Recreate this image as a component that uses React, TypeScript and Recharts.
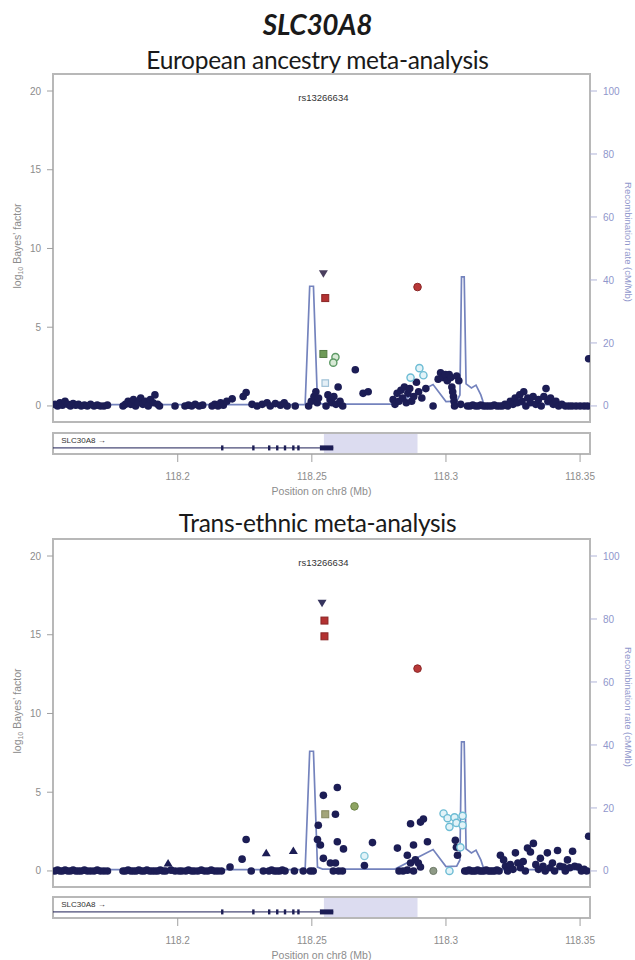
import React from 'react';
import {
  ComposedChart,
  Scatter,
  XAxis,
  YAxis,
  ReferenceArea,
  ReferenceDot,
  ReferenceLine,
  Label,
} from 'recharts';

type Pt = [number, number];

// ---- axes ----
const X_MIN = 118.1535;
const X_MAX = 118.3537;
const positionTicks = [118.2, 118.25, 118.3, 118.35];
const bayesTicks = [0, 5, 10, 15, 20];
const recombTicks = [0, 20, 40, 60, 80, 100];
const BF_DOMAIN: [number, number] = [-1.02, 21.08];
const REC_DOMAIN: [number, number] = [-5.1, 105.4];

// ---- titles ----
const geneTitle = 'SLC30A8';
const eurTitle = 'European ancestry meta-analysis';
const transTitle = 'Trans-ethnic meta-analysis';
const leadSnp = 'rs13266634';
const leadPos = 118.2543;

// ---- recombination rate (cM/Mb) ----
const recombination: Pt[] = [
  [118.1535, 0.4], [118.2475, 0.4], [118.2492, 38], [118.2506, 38], [118.2521, 1.2],
  [118.2540, 0.6], [118.2810, 0.6], [118.2952, 6.8], [118.3000, 1.4], [118.3040, 1.5],
  [118.3052, 3.5], [118.3058, 41], [118.3068, 41], [118.3075, 7], [118.3095, 5.7],
  [118.3112, 6.6], [118.3130, 3.5], [118.3142, 0.4], [118.3537, 0.4],
];

// ---- gene model ----
const geneName = 'SLC30A8 →';
const geneEnd = 118.258;
const exonPositions = [118.2166, 118.2282, 118.2341, 118.2371, 118.2400, 118.2431, 118.2450];
const utrBlock: [number, number] = [118.2530, 118.2580];
const highlightRegion: [number, number] = [118.2545, 118.2894];

// ---- European ancestry meta-analysis (log10 Bayes' factor) ----
const eurOther: Pt[] = [
  [118.1542, 0.1], [118.1552, 0.0], [118.1561, 0.2], [118.1570, 0.05], [118.1580, 0.3],
  [118.1590, 0.1], [118.1600, 0.0], [118.1610, 0.15], [118.1620, 0.05], [118.1630, 0.1],
  [118.1640, 0.0], [118.1652, 0.05], [118.1663, 0.0], [118.1675, 0.1], [118.1688, 0.0],
  [118.1700, 0.05], [118.1712, 0.0], [118.1725, 0.0], [118.1738, 0.05],
  [118.1796, 0.0], [118.1805, 0.1], [118.1815, 0.3], [118.1825, 0.1], [118.1835, 0.4],
  [118.1843, 0.0], [118.1852, 0.2], [118.1862, 0.5], [118.1870, 0.1], [118.1880, 0.3],
  [118.1890, 0.0], [118.1898, 0.4], [118.1908, 0.2], [118.1915, 0.7], [118.1925, 0.1],
  [118.1932, 0.0], [118.1990, 0.0],
  [118.2027, 0.0], [118.2040, 0.05], [118.2052, 0.0], [118.2065, 0.1], [118.2080, 0.0],
  [118.2093, 0.05], [118.2128, 0.0], [118.2138, 0.1], [118.2150, 0.0], [118.2160, 0.2],
  [118.2170, 0.05], [118.2183, 0.3], [118.2203, 0.45], [118.2244, 0.6], [118.2255, 0.85],
  [118.2277, 0.1], [118.2296, 0.0], [118.2315, 0.1], [118.2333, 0.2], [118.2345, 0.0],
  [118.2364, 0.15], [118.2383, 0.05], [118.2397, 0.2], [118.2408, 0.0], [118.2438, 0.0],
  [118.2488, 0.0], [118.2498, 0.3], [118.2508, 0.6], [118.2515, 0.9], [118.2520, 0.2],
  [118.2525, 0.5], [118.2553, 0.0], [118.2560, 0.7], [118.2568, 0.4], [118.2575, 0.2],
  [118.2582, 0.6], [118.2590, 0.1], [118.2598, 1.2], [118.2605, 0.3], [118.2615, 0.0],
  [118.2662, 2.3], [118.2691, 0.8], [118.2710, 0.9],
  [118.2803, 0.4], [118.2810, 0.1], [118.2818, 0.8], [118.2825, 0.3], [118.2832, 1.0],
  [118.2838, 0.5], [118.2845, 1.2], [118.2852, 0.2], [118.2858, 0.8], [118.2865, 1.1],
  [118.2872, 0.3], [118.2880, 0.6], [118.2890, 1.5], [118.2898, 0.9], [118.2910, 0.5],
  [118.2925, 1.1], [118.2952, 0.0],
  [118.2971, 1.7], [118.2980, 2.1], [118.2990, 1.8], [118.2998, 2.0], [118.3005, 1.6],
  [118.3012, 2.0], [118.3018, 1.8], [118.3022, 1.2], [118.3025, 0.9], [118.3028, 0.6],
  [118.3030, 0.3], [118.3032, 0.0], [118.3040, 1.9], [118.3048, 1.6], [118.3055, 0.1],
  [118.3080, 0.0], [118.3090, 0.0], [118.3100, 0.05], [118.3110, 0.0], [118.3120, 0.0],
  [118.3130, 0.05], [118.3140, 0.0], [118.3150, 0.0], [118.3160, 0.0], [118.3170, 0.0],
  [118.3180, 0.05], [118.3190, 0.0], [118.3200, 0.0], [118.3210, 0.0], [118.3220, 0.1],
  [118.3230, 0.0], [118.3240, 0.3], [118.3250, 0.1], [118.3258, 0.5], [118.3266, 0.2],
  [118.3275, 0.7], [118.3283, 0.3], [118.3290, 0.9], [118.3298, 0.0], [118.3305, 0.5],
  [118.3315, 0.2], [118.3325, 0.6], [118.3335, 0.1], [118.3345, 0.4], [118.3355, 0.0],
  [118.3365, 0.6], [118.3373, 1.1], [118.3380, 0.3], [118.3390, 0.5], [118.3400, 0.1],
  [118.3410, 0.3], [118.3420, 0.0], [118.3432, 0.1], [118.3445, 0.0], [118.3458, 0.0],
  [118.3470, 0.0], [118.3485, 0.0], [118.3500, 0.0], [118.3515, 0.0], [118.3528, 0.0],
  [118.3532, 3.0],
];
const eurLead: Pt[] = [[118.2543, 8.4]];
const eurRedSquare: Pt[] = [[118.2550, 6.85]];
const eurRedCircle: Pt[] = [[118.2894, 7.55]];
const eurGreenSquare: Pt[] = [[118.2543, 3.3]];
const eurGreenRing: Pt[] = [[118.2588, 3.1], [118.2580, 2.75]];
const eurPaleSquare: Pt[] = [[118.2550, 1.45]];
const eurCyanRing: Pt[] = [[118.2868, 1.8], [118.2901, 2.4], [118.2916, 1.95]];

// ---- Trans-ethnic meta-analysis (log10 Bayes' factor) ----
const transOther: Pt[] = [
  [118.1542, 0.0], [118.1552, 0.05], [118.1561, 0.0], [118.1570, 0.0], [118.1580, 0.05],
  [118.1590, 0.0], [118.1600, 0.0], [118.1610, 0.05], [118.1620, 0.0], [118.1630, 0.0],
  [118.1640, 0.0], [118.1652, 0.05], [118.1663, 0.0], [118.1675, 0.0], [118.1688, 0.0],
  [118.1700, 0.05], [118.1712, 0.0], [118.1725, 0.0], [118.1738, 0.0],
  [118.1796, 0.0], [118.1805, 0.0], [118.1815, 0.05], [118.1825, 0.0], [118.1835, 0.0],
  [118.1845, 0.0], [118.1855, 0.05], [118.1865, 0.0], [118.1875, 0.0], [118.1885, 0.05],
  [118.1895, 0.0], [118.1905, 0.0], [118.1915, 0.0], [118.1925, 0.0], [118.1935, 0.05],
  [118.1945, 0.0], [118.1955, 0.0], [118.1975, 0.05], [118.1990, 0.0], [118.2005, 0.0],
  [118.2015, 0.0], [118.2030, 0.0], [118.2040, 0.05], [118.2052, 0.0], [118.2062, 0.0],
  [118.2075, 0.0], [118.2088, 0.05], [118.2100, 0.0], [118.2112, 0.0], [118.2125, 0.05],
  [118.2138, 0.0], [118.2150, 0.0], [118.2163, 0.0],
  [118.2195, 0.25], [118.2240, 0.75], [118.2255, 2.0], [118.2274, 0.0], [118.2319, 0.0],
  [118.2340, 0.0], [118.2350, 0.05], [118.2360, 0.0], [118.2370, 0.0], [118.2380, 0.0],
  [118.2390, 0.05], [118.2400, 0.0], [118.2435, 0.0], [118.2468, 0.0], [118.2494, 0.0],
  [118.2505, 0.0],
  [118.2521, 2.0], [118.2524, 2.9], [118.2532, 1.65], [118.2543, 4.8], [118.2543, 0.8],
  [118.2569, 0.5], [118.2588, 0.5], [118.2595, 5.3], [118.2588, 3.6], [118.2595, 1.85],
  [118.2618, 1.4], [118.2726, 1.8], [118.2696, 0.35], [118.2614, 0.0], [118.2600, 0.0],
  [118.2580, 0.0],
  [118.2819, 1.45], [118.2868, 3.0], [118.2905, 3.1], [118.2916, 3.3], [118.2879, 1.65],
  [118.2931, 1.85], [118.2856, 1.0], [118.2868, 0.5], [118.2886, 0.7], [118.2897, 0.5],
  [118.2856, 0.05], [118.2905, 0.25], [118.2879, 0.0], [118.2840, 0.0], [118.2825, 0.0],
  [118.3035, 1.95], [118.3039, 1.5], [118.3043, 1.0],
  [118.3070, 0.0], [118.3078, 0.0], [118.3086, 0.05], [118.3094, 0.0], [118.3102, 0.0],
  [118.3110, 0.0], [118.3118, 0.05], [118.3126, 0.0], [118.3134, 0.0], [118.3142, 0.0],
  [118.3150, 0.05], [118.3158, 0.0], [118.3166, 0.0], [118.3174, 0.0], [118.3182, 0.0],
  [118.3190, 0.05], [118.3198, 0.0], [118.3203, 1.0], [118.3215, 0.7], [118.3222, 0.3],
  [118.3230, 0.0], [118.3240, 0.4], [118.3250, 0.1], [118.3259, 1.15], [118.3268, 0.5],
  [118.3278, 0.2], [118.3288, 0.6], [118.3296, 0.0], [118.3304, 1.45], [118.3315, 1.2],
  [118.3326, 1.75], [118.3335, 0.4], [118.3345, 0.1], [118.3352, 0.8], [118.3362, 0.3],
  [118.3370, 0.0], [118.3378, 1.15], [118.3388, 0.2], [118.3397, 0.5], [118.3405, 0.0],
  [118.3416, 1.3], [118.3425, 0.3], [118.3438, 0.25], [118.3445, 0.0], [118.3453, 0.7],
  [118.3462, 0.2], [118.3472, 1.25], [118.3480, 0.3], [118.3494, 0.25], [118.3505, 0.0],
  [118.3515, 0.1], [118.3525, 0.0], [118.3532, 2.2],
];
const transTriangles: Pt[] = [[118.1964, 0.5], [118.2330, 1.15], [118.2431, 1.3]];
const transLead: Pt[] = [[118.2538, 17.0]];
const transRedSquare: Pt[] = [[118.2547, 15.9], [118.2547, 14.9]];
const transRedCircle: Pt[] = [[118.2894, 12.85]];
const transOliveSquare: Pt[] = [[118.2550, 3.6]];
const transGreenCircle: Pt[] = [[118.2659, 4.1]];
const transPaleCircle: Pt[] = [[118.2696, 0.95]];
const transGreyCircle: Pt[] = [[118.2953, 0.0]];
const transCyanRing: Pt[] = [
  [118.2991, 3.65], [118.3006, 3.35], [118.3013, 2.8], [118.3032, 3.4], [118.3039, 3.05],
  [118.3062, 3.5], [118.3062, 2.9], [118.3054, 1.5], [118.3013, 0.0],
];

// ---- palette ----
const NAVY = '#1c1d55';
const BOX = '#b8b8b8';
const TICK_GREY = '#8c8c8c';
const REC_BLUE = '#7483bd';
const REC_LABEL = '#9097cc';
const SANS = 'Liberation Sans, Arial, sans-serif';

const toXY = (pts: Pt[]) => pts.map(([x, y]) => ({ x, y }));

const circle = (fill: string, stroke = 'none', r = 3.8, sw = 1) => (p: any) => (
  <circle cx={p.cx} cy={p.cy} r={r} fill={fill} stroke={stroke} strokeWidth={sw} />
);
const square = (fill: string, stroke = 'none', s = 7, sw = 1) => (p: any) => (
  <rect x={p.cx - s / 2} y={p.cy - s / 2} width={s} height={s} fill={fill} stroke={stroke} strokeWidth={sw} />
);
const triDown = (fill: string) => (p: any) => (
  <path d={`M${p.cx - 4.5},${p.cy - 3.5}L${p.cx + 4.5},${p.cy - 3.5}L${p.cx},${p.cy + 4}Z`} fill={fill} />
);
const triUp = (fill: string) => (p: any) => (
  <path d={`M${p.cx - 4.5},${p.cy + 3.5}L${p.cx + 4.5},${p.cy + 3.5}L${p.cx},${p.cy - 4}Z`} fill={fill} />
);
const noShape = () => <g />;

type Layer = { data: Pt[]; shape: (p: any) => React.ReactElement };

const BayesLabel = (props: any) => {
  const vb = props.viewBox || { x: 0, y: 0, width: 53, height: 300 };
  const cx = vb.x + 17;
  const cy = vb.y + vb.height / 2 - 2;
  return (
    <text
      x={cx}
      y={cy}
      transform={`rotate(-90 ${cx} ${cy})`}
      textAnchor="middle"
      dominantBaseline="central"
      fontSize={10.5}
      fill={TICK_GREY}
      fontFamily={SANS}
    >
      log<tspan fontSize={7} dy={3}>10</tspan>
      <tspan dy={-3}> Bayes' factor</tspan>
    </text>
  );
};

const RecombLabel = (props: any) => {
  const vb = props.viewBox || { x: 590, y: 0, width: 45, height: 300 };
  const cx = vb.x + 38;
  const cy = vb.y + vb.height / 2 - 6;
  return (
    <text
      x={cx}
      y={cy}
      transform={`rotate(90 ${cx} ${cy})`}
      textAnchor="middle"
      dominantBaseline="central"
      fontSize={9.5}
      fill={REC_LABEL}
      fontFamily={SANS}
    >
      Recombination rate (cM/Mb)
    </text>
  );
};

function AssocPanel({ boxTop, boxBottom, layers }: { boxTop: number; boxBottom: number; layers: Layer[] }) {
  const pad = 4;
  return (
    <div style={{ position: 'absolute', left: 0, top: boxTop - pad }}>
      <ComposedChart width={635} height={boxBottom - boxTop + 2 * pad} margin={{ top: pad, right: 0, bottom: pad, left: 0 }}>
        <XAxis type="number" dataKey="x" domain={[X_MIN, X_MAX]} hide allowDataOverflow />
        <YAxis
          yAxisId="bf"
          type="number"
          dataKey="y"
          domain={BF_DOMAIN}
          ticks={bayesTicks}
          interval={0}
          allowDataOverflow
          width={53}
          axisLine={false}
          tickLine={{ stroke: '#a0a0a0' }}
          tickSize={6}
          tickMargin={6}
          tick={{ fontSize: 10, fill: TICK_GREY, fontFamily: SANS }}
        >
          <Label content={<BayesLabel />} />
        </YAxis>
        <YAxis
          yAxisId="rec"
          orientation="right"
          type="number"
          dataKey="y"
          domain={REC_DOMAIN}
          ticks={recombTicks}
          interval={0}
          allowDataOverflow
          width={45}
          axisLine={false}
          tickLine={{ stroke: '#b0b4d8' }}
          tickSize={7}
          tickMargin={6}
          tick={{ fontSize: 10, fill: REC_LABEL, fontFamily: SANS }}
        >
          <Label content={<RecombLabel />} />
        </YAxis>
        <Scatter
          yAxisId="rec"
          data={toXY(recombination)}
          line={{ stroke: REC_BLUE, strokeWidth: 1.7 }}
          shape={noShape}
          isAnimationActive={false}
        />
        {layers.map((l, i) => (
          <Scatter key={i} yAxisId="bf" data={toXY(l.data)} shape={l.shape} isAnimationActive={false} />
        ))}
        <ReferenceDot
          yAxisId="bf"
          x={leadPos}
          y={19.6}
          r={0}
          fill="none"
          stroke="none"
          label={{ value: leadSnp, position: 'center', fontSize: 9.5, fill: '#333', fontFamily: SANS }}
        />
        <ReferenceArea
          yAxisId="bf"
          x1={X_MIN}
          x2={X_MAX}
          y1={BF_DOMAIN[0]}
          y2={BF_DOMAIN[1]}
          fill="none"
          stroke={BOX}
          strokeWidth={2}
          ifOverflow="visible"
        />
      </ComposedChart>
    </div>
  );
}

const exonShape = (p: any) => <rect x={p.cx - 1.2} y={p.cy - 2.5} width={2.4} height={5} fill={NAVY} />;

function GeneTrack({ top }: { top: number }) {
  return (
    <div style={{ position: 'absolute', left: 0, top }}>
      <ComposedChart width={635} height={70} margin={{ top: 4, right: 45, bottom: 0, left: 53 }}>
        <XAxis
          type="number"
          dataKey="x"
          domain={[X_MIN, X_MAX]}
          ticks={positionTicks}
          interval={0}
          allowDataOverflow
          height={45}
          axisLine={false}
          tickLine={{ stroke: '#a0a0a0' }}
          tickSize={8}
          tickMargin={11}
          tick={{ fontSize: 10, fill: TICK_GREY, fontFamily: SANS }}
        >
          <Label
            value="Position on chr8 (Mb)"
            position="insideBottom"
            offset={4}
            style={{ fontSize: 10.5, fill: TICK_GREY, fontFamily: SANS }}
          />
        </XAxis>
        <YAxis hide type="number" dataKey="y" domain={[0, 1]} />
        <ReferenceArea
          x1={highlightRegion[0]}
          x2={highlightRegion[1]}
          y1={0}
          y2={1}
          fill="#dcdcf0"
          fillOpacity={1}
          stroke="none"
        />
        <ReferenceLine
          segment={[{ x: X_MIN, y: 0.29 }, { x: geneEnd, y: 0.29 }]}
          stroke={NAVY}
          strokeWidth={1}
        />
        <ReferenceArea x1={utrBlock[0]} x2={utrBlock[1]} y1={0.17} y2={0.41} fill={NAVY} fillOpacity={1} stroke="none" />
        <Scatter data={exonPositions.map((x) => ({ x, y: 0.29 }))} shape={exonShape} isAnimationActive={false} />
        <ReferenceDot
          x={X_MIN + 0.0012}
          y={0.66}
          r={0}
          fill="none"
          stroke="none"
          label={{ value: geneName, position: 'right', fontSize: 8, fill: '#333', fontFamily: SANS }}
        />
        <ReferenceArea
          x1={X_MIN}
          x2={X_MAX}
          y1={0}
          y2={1}
          fill="none"
          stroke={BOX}
          strokeWidth={2}
          ifOverflow="visible"
        />
      </ComposedChart>
    </div>
  );
}

const titleFont = 'Lato, "Open Sans", sans-serif';

function Heading({ text, centerY, size, bold, italic }: { text: string; centerY: number; size: number; bold?: boolean; italic?: boolean }) {
  return (
    <div
      style={{
        position: 'absolute',
        left: 0,
        width: 635,
        top: centerY - 16,
        height: 32,
        lineHeight: '32px',
        textAlign: 'center',
        fontFamily: titleFont,
        fontSize: size,
        fontWeight: bold ? 700 : 400,
        fontStyle: italic ? 'italic' : 'normal',
        color: '#1a1a1a',
        letterSpacing: -0.3,
      }}
    >
      {text}
    </div>
  );
}

const eurLayers: Layer[] = [
  { data: eurOther, shape: circle(NAVY) },
  { data: eurPaleSquare, shape: square('#e4eff6', '#9fc1d6', 6.5, 1.2) },
  { data: eurCyanRing, shape: circle('#e2f3f8', '#6dbcd4', 3.6, 1.4) },
  { data: eurGreenRing, shape: circle('#d8ead6', '#5e9a66', 3.6, 1.4) },
  { data: eurGreenSquare, shape: square('#6f9a58', '#557a44', 7, 1) },
  { data: eurRedCircle, shape: circle('#b83838', '#8a2626', 3.8, 1) },
  { data: eurRedSquare, shape: square('#b33232', '#8a2626', 7, 1) },
  { data: eurLead, shape: triDown('#4a3f5e') },
];

const transLayers: Layer[] = [
  { data: transOther, shape: circle(NAVY) },
  { data: transTriangles, shape: triUp(NAVY) },
  { data: transGreyCircle, shape: circle('#8e9a86', '#6e7a68', 3.6, 1) },
  { data: transPaleCircle, shape: circle('#e2f3f8', '#86c8da', 3.6, 1.4) },
  { data: transCyanRing, shape: circle('#e2f3f8', '#6dbcd4', 3.6, 1.4) },
  { data: transOliveSquare, shape: square('#a3a57a', '#85875e', 7, 1) },
  { data: transGreenCircle, shape: circle('#8ea462', '#6e8448', 3.8, 1) },
  { data: transRedCircle, shape: circle('#b83838', '#8a2626', 3.8, 1) },
  { data: transRedSquare, shape: square('#b33232', '#8a2626', 7, 1) },
  { data: transLead, shape: triDown('#36345e') },
];

export default function App() {
  return (
    <div
      style={{
        position: 'absolute',
        left: 0,
        top: 0,
        width: 635,
        height: 960,
        overflow: 'hidden',
        background: '#ffffff',
      }}
    >
      <Heading text={geneTitle} centerY={24} size={28} bold italic />
      <Heading text={eurTitle} centerY={60} size={24.5} />
      <AssocPanel boxTop={74} boxBottom={422} layers={eurLayers} />
      <GeneTrack top={429} />
      <Heading text={transTitle} centerY={523} size={24.5} />
      <AssocPanel boxTop={539} boxBottom={887} layers={transLayers} />
      <GeneTrack top={893} />
    </div>
  );
}
